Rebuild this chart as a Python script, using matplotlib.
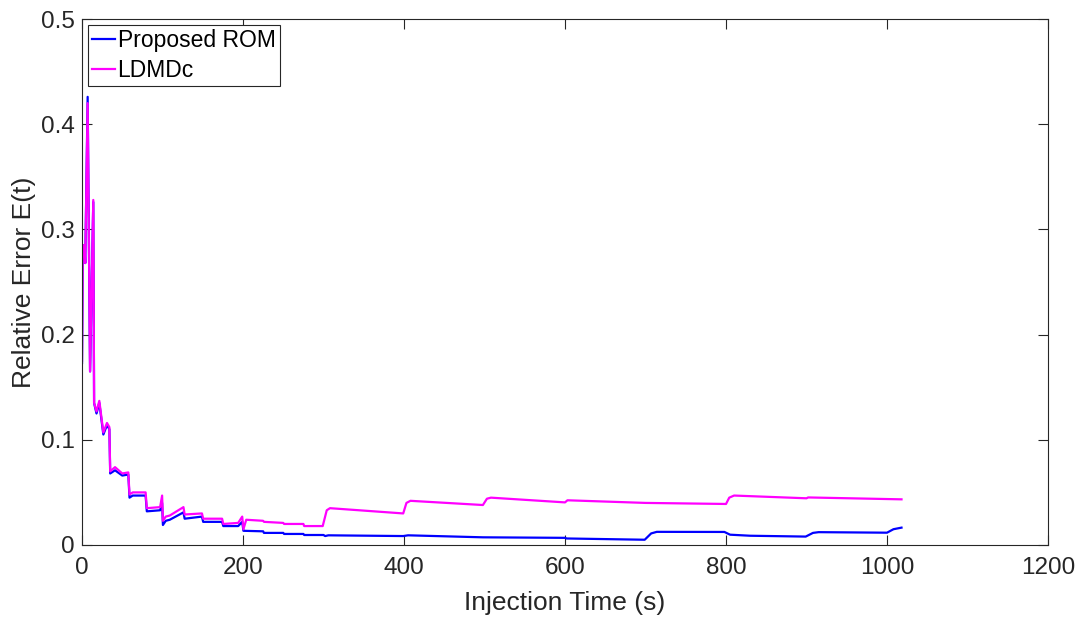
import numpy as np
import matplotlib
matplotlib.use("Agg")
import matplotlib.pyplot as plt
from matplotlib.ticker import FuncFormatter

plt.rcParams['font.family'] = ['Liberation Sans', 'DejaVu Sans']

# Proposed ROM (blue)
rom_t = [0, 1, 3, 4, 7, 10, 14, 15, 18, 21.5, 26.5, 31, 34, 35, 41, 50, 57.5, 59, 63, 79,
         80.5, 97, 99.5, 100.5, 104, 109, 126, 127.5, 149, 150.5, 174, 175.5, 194, 199, 200.5,
         225, 226, 250, 251, 275, 276, 300, 302, 306, 399, 405, 498, 600, 602, 699, 707, 714,
         798, 805, 830, 899, 908, 915, 1000, 1008, 1018]
rom_e = [0.173, 0.285, 0.285, 0.268, 0.426, 0.165, 0.326, 0.135, 0.125, 0.135, 0.105, 0.114,
         0.110, 0.068, 0.071, 0.066, 0.067, 0.045, 0.047, 0.047, 0.032, 0.033, 0.040, 0.019,
         0.023, 0.024, 0.031, 0.025, 0.027, 0.022, 0.022, 0.018, 0.018, 0.022, 0.0135, 0.013,
         0.0115, 0.0115, 0.0105, 0.0105, 0.0095, 0.0095, 0.0085, 0.0092, 0.0085, 0.0092, 0.0073,
         0.0068, 0.0062, 0.0050, 0.0110, 0.0125, 0.0124, 0.0098, 0.0088, 0.0080, 0.0115, 0.0122,
         0.0117, 0.0150, 0.0165]

# LDMDc (magenta)
ldmdc_t = [0, 1, 3, 4, 7, 10, 14, 15, 18, 21.5, 26.5, 31, 34, 35, 41, 50, 57.5, 59, 63, 79,
           80.5, 97, 99.5, 100.5, 104, 109, 126, 127.5, 149, 150.5, 174, 175.5, 194, 199, 200.5,
           204, 225, 226, 250, 251, 275, 276, 299, 304, 308, 399, 403, 408, 498, 503, 508, 600,
           603, 700, 800, 804, 810, 900, 902, 1018]
ldmdc_e = [0.175, 0.285, 0.285, 0.268, 0.420, 0.165, 0.328, 0.135, 0.127, 0.137, 0.107, 0.116,
           0.112, 0.070, 0.074, 0.068, 0.069, 0.048, 0.050, 0.050, 0.035, 0.036, 0.047, 0.023,
           0.027, 0.028, 0.036, 0.029, 0.030, 0.025, 0.025, 0.020, 0.021, 0.027, 0.015, 0.024,
           0.023, 0.022, 0.021, 0.020, 0.020, 0.018, 0.018, 0.033, 0.035, 0.030, 0.040, 0.042,
           0.038, 0.044, 0.045, 0.0405, 0.0425, 0.040, 0.039, 0.045, 0.047, 0.0444, 0.0452,
           0.0434]

x_ticks = [0, 200, 400, 600, 800, 1000, 1200]
y_ticks = [0, 0.1, 0.2, 0.3, 0.4, 0.5]

fig = plt.figure(figsize=(10.82, 6.17), dpi=100)
ax = fig.add_axes([0.0758, 0.1167, 0.8928, 0.8525])

ax.plot(rom_t, rom_e, color='#0000FF', linewidth=1.6, label='Proposed ROM')
ax.plot(ldmdc_t, ldmdc_e, color='#FF00FF', linewidth=1.6, label='LDMDc')

ax.set_xlim(0, 1200)
ax.set_ylim(0, 0.5)
ax.set_xticks(x_ticks)
ax.set_yticks(y_ticks)
ax.yaxis.set_major_formatter(FuncFormatter(lambda v, p: f"{v:g}"))
ax.tick_params(direction='in', length=7, width=0.8, top=True, right=True,
               labelsize=17.5, colors='#262626', labelcolor='#262626', pad=5)
ax.tick_params(axis='x', pad=9)
for s in ax.spines.values():
    s.set_color('#262626')
    s.set_linewidth(0.8)

ax.set_xlabel("Injection Time (s)", fontsize=19, color='#262626', labelpad=8)
ax.set_ylabel("Relative Error E(t)", fontsize=19, color='#262626', labelpad=4)

leg = ax.legend(loc='upper left', fontsize=16.5, handlelength=1.0, handletextpad=0.1,
                borderpad=0.2, labelspacing=0.28, borderaxespad=0.25,
                fancybox=False, framealpha=1, edgecolor='#262626')
leg.get_frame().set_linewidth(0.8)

fig.savefig("out.png", dpi=100)
